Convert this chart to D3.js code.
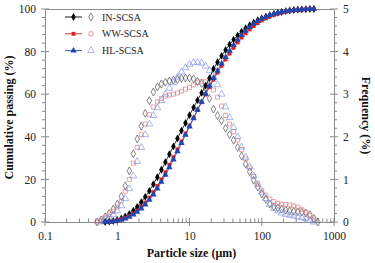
<!DOCTYPE html>
<html>
<head>
<meta charset="utf-8">
<script src="https://cdn.jsdelivr.net/npm/d3@7"></script>
<style>
  html, body { margin: 0; padding: 0; background: #fff; }
  svg, svg text { font-family: "Liberation Serif", "DejaVu Serif", serif !important; }
</style>
</head>
<body>
<div id="chart"></div>
<script>
// Particle size distribution: cumulative passing (filled, left axis) + frequency (hollow, right axis)

const sizes = [0.527, 0.599, 0.681, 0.774, 0.880, 1.00, 1.14, 1.29, 1.47, 1.67, 1.89, 2.15, 2.44, 2.78,
  3.16, 3.59, 4.08, 4.64, 5.27, 5.99, 6.81, 7.74, 8.80, 10.0, 11.4, 12.9, 14.7, 16.7, 18.9, 21.5,
  24.4, 27.8, 31.6, 35.9, 40.8, 46.4, 52.7, 59.9, 68.1, 77.4, 88.0, 100, 114, 129, 147, 167, 189,
  215, 244, 278, 316, 359, 408, 464, 527, 599];

const inCum = [null, null, 0, 0.2, 0.5, 1.0, 1.7, 2.6, 3.8, 5.3, 7.1, 9.3, 11.8, 14.6, 17.7, 21.0,
  24.5, 28.1, 31.8, 35.5, 39.2, 42.9, 46.5, 50.1, 53.7, 57.2, 60.6, 64.0, 67.5, 72.0, 75.0, 78.0,
  80.8, 83.3, 85.6, 87.6, 89.4, 91.0, 92.4, 93.6, 94.7, 95.6, 96.4, 97.1, 97.7, 98.2, 98.6, 99.0,
  99.3, 99.5, 99.7, 99.8, 99.9, 100, 100, null];
const wwCum = [null, null, null, 0, 0.4, 0.8, 1.3, 2.0, 2.9, 4.0, 5.4, 7.1, 9.1, 11.4, 14.0, 16.9,
  20.0, 23.3, 26.8, 30.4, 34.1, 37.8, 41.5, 45.2, 48.9, 52.6, 56.2, 59.8, 63.3, 66.8, 70.1, 73.3,
  76.3, 79.1, 81.8, 84.3, 86.6, 88.6, 90.4, 92.0, 93.4, 94.6, 95.6, 96.5, 97.2, 97.8, 98.3, 98.7,
  99.1, 99.4, 99.6, 99.8, 99.9, 100, 100, null];
const hlCum = [null, null, 0, 0.1, 0.3, 0.6, 1.0, 1.6, 2.4, 3.4, 4.7, 6.3, 8.2, 10.4, 12.9, 15.7,
  18.8, 22.1, 25.6, 29.3, 33.1, 37.0, 40.9, 44.8, 48.7, 52.6, 56.4, 60.2, 63.9, 67.5, 71.0, 74.3,
  77.4, 80.3, 83.0, 85.5, 87.7, 89.7, 91.5, 93.0, 94.3, 95.4, 96.3, 97.1, 97.7, 98.2, 98.7, 99.0,
  99.3, 99.5, 99.7, 99.8, 99.9, 100, 100, null];

const inFreq = [0, 0.05, 0.12, 0.2, 0.3, 0.42, 0.6, 0.85, 1.2, 1.6, 1.95, 2.25, 2.55, 2.85, 3.05,
  3.17, 3.24, 3.28, 3.31, 3.33, 3.35, 3.37, 3.38, 3.38, 3.36, 3.3, 3.25, 3.15, 2.9, 2.65, 2.5, 2.38,
  2.2, 2.05, 1.92, 1.75, 1.55, 1.36, 1.18, 0.98, 0.82, 0.66, 0.53, 0.42, 0.36, 0.33, 0.3, 0.28,
  0.26, 0.25, 0.24, 0.23, 0.21, 0.17, 0.08, 0];
const wwFreq = [0, 0.04, 0.1, 0.17, 0.25, 0.35, 0.5, 0.72, 1.0, 1.38, 1.75, 2.05, 2.3, 2.52, 2.7,
  2.82, 2.9, 2.95, 2.98, 3.0, 3.03, 3.07, 3.12, 3.16, 3.22, 3.27, 3.3, 3.29, 3.22, 3.1, 2.93, 2.72,
  2.5, 2.3, 2.12, 1.92, 1.7, 1.48, 1.27, 1.07, 0.9, 0.75, 0.63, 0.54, 0.48, 0.44, 0.42, 0.41, 0.4,
  0.38, 0.35, 0.3, 0.23, 0.15, 0.05, null];
const hlFreq = [null, 0, 0.05, 0.1, 0.17, 0.26, 0.38, 0.55, 0.78, 1.08, 1.42, 1.75, 2.05, 2.3, 2.5,
  2.68, 2.85, 3.0, 3.14, 3.27, 3.4, 3.52, 3.62, 3.7, 3.74, 3.75, 3.73, 3.66, 3.55, 3.4, 3.22, 3.0,
  2.7, 2.45, 2.22, 2.0, 1.76, 1.52, 1.3, 1.08, 0.88, 0.7, 0.55, 0.42, 0.32, 0.26, 0.21, 0.18, 0.16,
  0.14, 0.12, 0.1, 0.08, 0.04, 0, null];

const seriesNames = ["IN-SCSA", "WW-SCSA", "HL-SCSA"];
const xTicks = [0.1, 1, 10, 100, 1000];
const yTicks = [0, 20, 40, 60, 80, 100];
const y2Ticks = [0, 1, 2, 3, 4, 5];

const W = 375, H = 263;
const margin = { top: 9, right: 41, bottom: 41, left: 45 };
const axisGrey = "#8a8a8a";
const serif = "'Liberation Serif', 'DejaVu Serif', serif";

const svg = d3.select("#chart").append("svg").attr("width", W).attr("height", H);

const x = d3.scaleLog().domain([0.1, 1000]).range([margin.left, W - margin.right]);
const y = d3.scaleLinear().domain([0, 100]).range([H - margin.bottom, margin.top]);
const y2 = d3.scaleLinear().domain([0, 5]).range([H - margin.bottom, margin.top]);

const styles = [
  { sym: d3.symbolDiamond, fill: "#000", hollow: "#444", size: 18, hsize: 18 },
  { sym: d3.symbolSquare, fill: "#d42424", hollow: "#e67373", size: 15, hsize: 16 },
  { sym: d3.symbolTriangle, fill: "#2346b0", hollow: "#7a8fdf", size: 18, hsize: 20 },
];
const cum = [inCum, wwCum, hlCum];
const freq = [inFreq, wwFreq, hlFreq];

// frame + axes
const x0 = x.range()[0], x1 = x.range()[1], yb = y.range()[0], yt = y.range()[1];
svg.append("line").attr("x1", x0).attr("x2", x1).attr("y1", yt + 0.5).attr("y2", yt + 0.5)
  .attr("stroke", axisGrey);

const gx = svg.append("g").attr("transform", `translate(0,${yb})`)
  .call(d3.axisBottom(x).tickValues(xTicks).tickFormat(d => d).tickSize(0).tickPadding(10));
const minorX = [];
[0.1, 1, 10, 100].forEach(dec => d3.range(2, 10).forEach(k => minorX.push(dec * k)));
gx.selectAll(".minor").data(minorX).join("line").attr("class", "minor")
  .attr("x1", d => x(d)).attr("x2", d => x(d)).attr("y1", 0).attr("y2", -3.5);
gx.selectAll(".major").data(xTicks).join("line").attr("class", "major")
  .attr("x1", d => x(d)).attr("x2", d => x(d)).attr("y1", -4).attr("y2", 4);

const gy = svg.append("g").attr("transform", `translate(${x0},0)`)
  .call(d3.axisLeft(y).tickValues(yTicks).tickSize(0).tickPadding(9));
gy.selectAll(".minor").data(d3.range(0, 101, 4).filter(v => v % 20)).join("line").attr("class", "minor")
  .attr("y1", d => y(d)).attr("y2", d => y(d)).attr("x1", 0).attr("x2", -3);
gy.selectAll(".major").data(yTicks).join("line").attr("class", "major")
  .attr("y1", d => y(d)).attr("y2", d => y(d)).attr("x1", -4).attr("x2", 4);

const gy2 = svg.append("g").attr("transform", `translate(${x1},0)`)
  .call(d3.axisRight(y2).tickValues(y2Ticks).tickFormat(d3.format("d")).tickSize(0).tickPadding(9));
gy2.selectAll(".minor").data(d3.range(1, 25).filter(k => k % 5).map(k => k * 0.2)).join("line").attr("class", "minor")
  .attr("y1", d => y2(d)).attr("y2", d => y2(d)).attr("x1", 0).attr("x2", 3);
gy2.selectAll(".major").data(y2Ticks).join("line").attr("class", "major")
  .attr("y1", d => y2(d)).attr("y2", d => y2(d)).attr("x1", -4).attr("x2", 4);

[gx, gy, gy2].forEach(g => {
  g.attr("font-family", serif);
  g.selectAll(".domain").attr("stroke", axisGrey);
  g.selectAll("line").attr("stroke", axisGrey);
  g.selectAll("text").style("font-family", serif).attr("font-size", 11.5).attr("fill", "#222");
});

// axis titles
const title = (t) => svg.append("text").attr("text-anchor", "middle").style("font-family", serif)
  .attr("font-weight", "bold").attr("font-size", 12).attr("fill", "#111").text(t);
title("Particle size (μm)").attr("x", (x0 + x1) / 2 + 2).attr("y", 257);
title("Cumulative passing (%)").attr("transform", `translate(13,${(yt + yb) / 2 + 2}) rotate(-90)`);
title("Frequency (%)").attr("transform", `translate(362,${(yt + yb) / 2}) rotate(90)`);

// frequency (hollow markers)
freq.forEach((vals, i) => {
  const st = styles[i];
  svg.append("g").selectAll("path")
    .data(sizes.map((s, j) => ({ s, v: vals[j] })).filter(d => d.v != null))
    .join("path")
    .attr("d", d3.symbol().type(st.sym).size(st.hsize))
    .attr("transform", d => `translate(${x(d.s)},${y2(d.v)})`)
    .attr("fill", "none").attr("stroke", st.hollow).attr("stroke-width", 0.65);
});

// cumulative (filled markers + thin line)
cum.forEach((vals, i) => {
  const st = styles[i];
  const pts = sizes.map((s, j) => ({ s, v: vals[j] })).filter(d => d.v != null);
  svg.append("path").datum(pts)
    .attr("d", d3.line().x(d => x(d.s)).y(d => y(d.v)))
    .attr("fill", "none").attr("stroke", st.fill).attr("stroke-width", 0.8);
  svg.append("g").selectAll("path").data(pts).join("path")
    .attr("d", d3.symbol().type(st.sym).size(st.size))
    .attr("transform", d => `translate(${x(d.s)},${y(d.v)})`)
    .attr("fill", st.fill);
});

// legend
const lg = svg.append("g").attr("transform", "translate(65,17)");
seriesNames.forEach((name, i) => {
  const st = styles[i];
  const row = lg.append("g").attr("transform", `translate(0,${i * 16.8})`);
  row.append("line").attr("x1", 0).attr("x2", 17).attr("stroke", st.fill).attr("stroke-width", 0.9);
  row.append("path").attr("d", d3.symbol().type(st.sym).size(st.size)()).attr("transform", "translate(8.5,0)").attr("fill", st.fill);
  row.append("path").attr("d", d3.symbol().type(st.sym).size(st.hsize)()).attr("transform", "translate(26,0)")
    .attr("fill", "none").attr("stroke", st.hollow).attr("stroke-width", 0.65);
  row.append("text").attr("x", 37).attr("y", 3.5).style("font-family", serif).attr("font-size", 10)
    .attr("fill", "#222").text(name);
});
</script>
</body>
</html>
